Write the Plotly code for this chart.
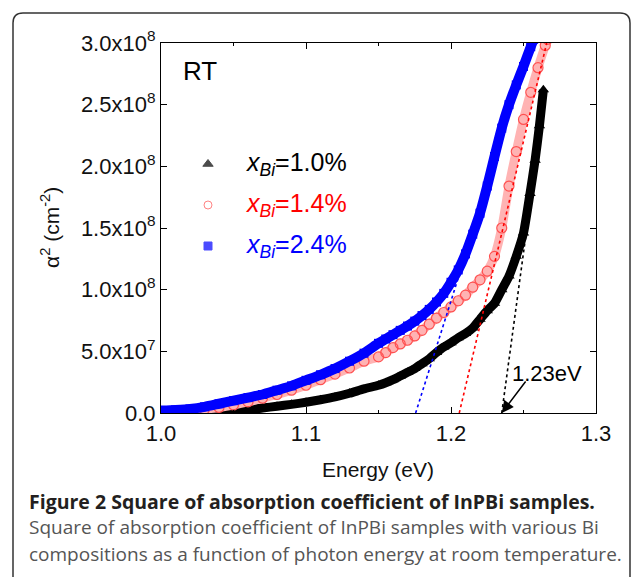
import plotly.graph_objects as go

# ---------------- data ----------------
energy_black = [1.00, 1.01, 1.02, 1.03, 1.04, 1.05, 1.06, 1.07, 1.08, 1.09, 1.10, 1.11, 1.12, 1.13, 1.14,
                1.15, 1.155, 1.16, 1.165, 1.17, 1.175, 1.18, 1.185, 1.19, 1.195, 1.20, 1.205, 1.21, 1.215,
                1.22, 1.225, 1.23, 1.235, 1.24, 1.245, 1.25, 1.2545, 1.258, 1.261, 1.2637]
alpha2_black = [0.0, 0.0, 0.003, 0.006, 0.01, 0.015, 0.025, 0.04, 0.055, 0.07, 0.087, 0.107, 0.13, 0.16, 0.195,
                0.225, 0.245, 0.27, 0.30, 0.33, 0.36, 0.40, 0.44, 0.49, 0.535, 0.57, 0.61, 0.645, 0.69,
                0.76, 0.83, 0.89, 1.00, 1.11, 1.27, 1.46, 1.78, 2.05, 2.33, 2.62]

energy_red = [1.00, 1.01, 1.02, 1.03, 1.04, 1.05, 1.06, 1.07, 1.08, 1.09, 1.10, 1.11, 1.12, 1.13, 1.14,
              1.15, 1.155, 1.16, 1.165, 1.17, 1.175, 1.18, 1.185, 1.19, 1.195, 1.20, 1.205, 1.21, 1.215,
              1.22, 1.225, 1.23, 1.235, 1.24, 1.245, 1.25, 1.255, 1.26, 1.265, 1.2665]
alpha2_red = [0.005, 0.008, 0.015, 0.03, 0.045, 0.065, 0.09, 0.12, 0.15, 0.185, 0.225, 0.27, 0.315, 0.365, 0.42,
              0.455, 0.49, 0.53, 0.56, 0.59, 0.625, 0.67, 0.72, 0.77, 0.815, 0.86, 0.91, 0.955, 1.02,
              1.08, 1.15, 1.27, 1.50, 1.84, 2.12, 2.38, 2.60, 2.80, 2.98, 3.03]

energy_blue = [1.00, 1.01, 1.02, 1.03, 1.04, 1.05, 1.06, 1.07, 1.08, 1.09, 1.10, 1.11, 1.12, 1.13, 1.14,
               1.15, 1.155, 1.16, 1.165, 1.17, 1.175, 1.18, 1.185, 1.19, 1.195, 1.20, 1.205, 1.21, 1.215,
               1.22, 1.225, 1.23, 1.235, 1.24, 1.245, 1.25, 1.255, 1.257]
alpha2_blue = [0.02, 0.025, 0.033, 0.05, 0.075, 0.10, 0.125, 0.15, 0.185, 0.22, 0.265, 0.31, 0.36, 0.42, 0.485,
               0.565, 0.60, 0.635, 0.67, 0.705, 0.745, 0.79, 0.84, 0.90, 0.97, 1.06, 1.16, 1.29, 1.45,
               1.62, 1.84, 2.08, 2.31, 2.50, 2.66, 2.81, 2.97, 3.03]

# linear extrapolation (fit) lines: [start, end]
fit_black_e = [1.235, 1.2575]
fit_black_a = [0.0, 1.95]
fit_red_e = [1.2057, 1.266]
fit_red_a = [0.0, 3.0]
fit_blue_e = [1.1756, 1.2097]
fit_blue_a = [0.0, 1.27]

series_names = ["<i>x<sub>Bi</sub></i>=1.0%", "<i>x<sub>Bi</sub></i>=1.4%", "<i>x<sub>Bi</sub></i>=2.4%"]
x_ticks = [1.0, 1.1, 1.2, 1.3]
x_tick_text = ["1.0", "1.1", "1.2", "1.3"]
y_tick_vals = [0, 0.5, 1.0, 1.5, 2.0, 2.5, 3.0]
y_tick_text = ["0.0", "5.0x10<sup>7</sup>", "1.0x10<sup>8</sup>", "1.5x10<sup>8</sup>",
               "2.0x10<sup>8</sup>", "2.5x10<sup>8</sup>", "3.0x10<sup>8</sup>"]
SCALE = 1e8

# ---------------- figure ----------------
W, H = 632, 577
L, R, T, B = 161, 596, 43, 413
pw, ph = R - L, B - T


def px(x):
    return (x - L) / pw


def py(y):
    return (B - y) / ph


def sc(v):
    return [a * SCALE for a in v]


fig = go.Figure()

# data bands
fig.add_trace(go.Scatter(x=energy_black, y=sc(alpha2_black), mode="lines+markers",
                         line=dict(color="black", width=9, shape="spline", smoothing=0.6),
                         marker=dict(symbol="triangle-up", size=10, color="black"),
                         showlegend=False))
fig.add_trace(go.Scatter(x=energy_red, y=sc(alpha2_red), mode="lines+markers",
                         line=dict(color="#ffb3b3", width=9, shape="spline", smoothing=0.6),
                         marker=dict(symbol="circle-open", size=10, color="#ff5050", line=dict(width=1.2)),
                         showlegend=False))
fig.add_trace(go.Scatter(x=energy_blue, y=sc(alpha2_blue), mode="lines+markers",
                         line=dict(color="#0000ff", width=10, shape="spline", smoothing=0.6),
                         marker=dict(symbol="square", size=9, color="#0000ff"),
                         showlegend=False))

# fit lines
for xe, ya, col in [(fit_black_e, fit_black_a, "black"), (fit_red_e, fit_red_a, "#ff0000"),
                    (fit_blue_e, fit_blue_a, "#0000ff")]:
    fig.add_trace(go.Scatter(x=xe, y=sc(ya), mode="lines",
                             line=dict(color=col, width=1.6, dash="3px,3px"), showlegend=False))

shapes = []
# outer rounded frame
lf, rt_, tp, bt = px(13), px(630), py(13), py(592)
rx, ry = 10 / pw, 10 / ph
shapes.append(dict(type="path", xref="paper", yref="paper",
                   path=f"M {lf},{bt} L {lf},{tp - ry} Q {lf},{tp} {lf + rx},{tp} "
                        f"L {rt_ - rx},{tp} Q {rt_},{tp} {rt_},{tp - ry} L {rt_},{bt}",
                   line=dict(color="#333333", width=1.5)))

annotations = []
# legend texts
leg_y = [164, 205, 246]
leg_sym = ["triangle-up", "circle-open", "square"]
leg_col = ["black", "#ff5050", "#0000ff"]
txt_col = ["black", "#ff0000", "#0000ff"]
for i in range(3):
    annotations.append(dict(x=px(244), y=py(leg_y[i]), xref="paper", yref="paper",
                            text=series_names[i], showarrow=False, xanchor="left", yanchor="middle",
                            font=dict(size=25, color=txt_col[i], family="Liberation Sans, Arial")))

# legend markers on an overlay axis (0..1 of the plot area)
fig.add_trace(go.Scatter(x=[px(208)] * 3, y=[py(v) for v in leg_y], mode="markers",
                         marker=dict(symbol=leg_sym, size=[9, 8, 8], color=leg_col,
                                     line=dict(width=1, color=leg_col)),
                         xaxis="x2", yaxis="y2", showlegend=False, hoverinfo="skip"))

annotations.append(dict(x=px(181), y=py(71), xref="paper", yref="paper", text="RT", showarrow=False,
                        xanchor="left", yanchor="middle",
                        font=dict(size=26, color="black", family="Liberation Sans, Arial")))
annotations.append(dict(x=px(547), y=py(373), xref="paper", yref="paper", text="1.23eV", showarrow=False,
                        xanchor="center", yanchor="middle",
                        font=dict(size=22, color="black", family="Liberation Sans, Arial")))
# arrow
annotations.append(dict(x=1.235, y=0, xref="x", yref="y", text="", showarrow=True,
                        ax=25, ay=-33, arrowhead=2, arrowsize=1.6, arrowwidth=1.5, arrowcolor="black"))

# axis titles
annotations.append(dict(x=px(378), y=py(469), xref="paper", yref="paper", text="Energy (eV)",
                        showarrow=False, xanchor="center", yanchor="middle",
                        font=dict(size=21, color="#111111", family="Liberation Sans, Arial")))
annotations.append(dict(x=px(50), y=py(228), xref="paper", yref="paper",
                        text="α<sup>2</sup> (cm<sup>-2</sup>)", textangle=-90,
                        showarrow=False, xanchor="center", yanchor="middle",
                        font=dict(size=21, color="#111111", family="Liberation Sans, Arial")))

# caption
annotations.append(dict(x=px(27), y=py(501), xref="paper", yref="paper",
                        text="<b>Figure 2 Square of absorption coefficient of InPBi samples.</b>",
                        showarrow=False, xanchor="left", yanchor="middle",
                        font=dict(size=19.5, color="#231f20", family="Open Sans")))
annotations.append(dict(x=px(27), y=py(527), xref="paper", yref="paper",
                        text="Square of absorption coefficient of InPBi samples with various Bi",
                        showarrow=False, xanchor="left", yanchor="middle",
                        font=dict(size=19, color="#555555", family="Open Sans")))
annotations.append(dict(x=px(27), y=py(554), xref="paper", yref="paper",
                        text="compositions as a function of photon energy at room temperature.",
                        showarrow=False, xanchor="left", yanchor="middle",
                        font=dict(size=19, color="#555555", family="Open Sans")))

axis_font = dict(size=22, color="#111111", family="Liberation Sans, Arial")
fig.update_layout(
    width=W, height=H,
    margin=dict(l=L, r=W - R, t=T, b=H - B, pad=0),
    paper_bgcolor="white", plot_bgcolor="white",
    showlegend=False,
    shapes=shapes, annotations=annotations,
    xaxis=dict(range=[1.0, 1.3], tickvals=x_ticks, ticktext=x_tick_text,
               showgrid=False, zeroline=False, showline=True, linecolor="black", linewidth=1.2,
               mirror="ticks", ticks="inside", ticklen=6, tickcolor="black", tickwidth=1.2,
               minor=dict(dtick=0.05, tick0=1.0, ticks="inside", ticklen=3, tickcolor="black", tickwidth=1.2,
                          showgrid=False),
               tickfont=axis_font),
    yaxis=dict(range=[0, 3.0 * SCALE], tickvals=[v * SCALE for v in y_tick_vals], ticktext=y_tick_text,
               showgrid=False, zeroline=False, showline=True, linecolor="black", linewidth=1.2,
               mirror="ticks", ticks="inside", ticklen=6, tickcolor="black", tickwidth=1.2,
               tickfont=axis_font),
    xaxis2=dict(range=[0, 1], overlaying="x", visible=False, fixedrange=True),
    yaxis2=dict(range=[0, 1], overlaying="y", visible=False, fixedrange=True),
)

fig.write_html("out.html", config={"displayModeBar": False})

# remove the default page margin so the figure sits at the window origin
with open("out.html", "r", encoding="utf-8") as f:
    html = f.read()
html = html.replace("<body>", '<body style="margin:0;padding:0;overflow:hidden">', 1)
with open("out.html", "w", encoding="utf-8") as f:
    f.write(html)
